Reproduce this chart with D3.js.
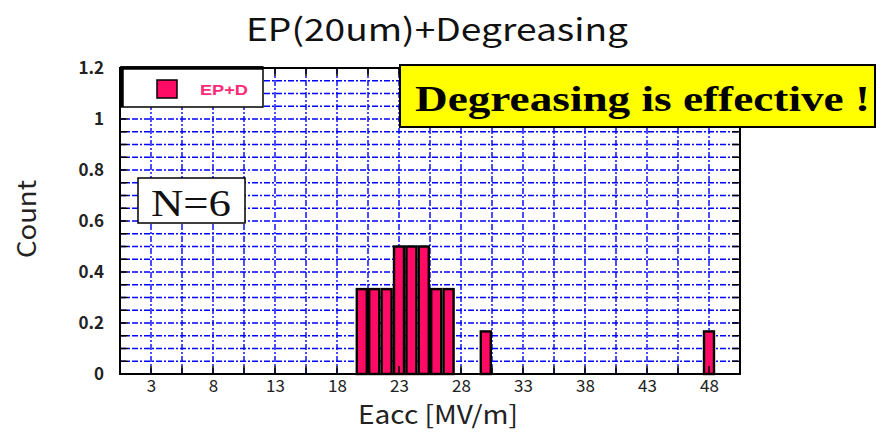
<!DOCTYPE html>
<html>
<head>
<meta charset="utf-8">
<script src="https://cdn.jsdelivr.net/npm/d3@7"></script>
<style>
  html, body { margin: 0; padding: 0; background: #fff; }
  svg { display: block; }
</style>
</head>
<body>
<svg id="chart" width="877" height="432"></svg>
<script>
// Histogram of accelerating gradient (1 MV/m bins)
const binCenters = [20, 21, 22, 23, 24, 25, 26, 27, 30, 48];
const binCounts  = [0.333, 0.333, 0.333, 0.5, 0.5, 0.5, 0.333, 0.333, 0.167, 0.167];
const xTickLabels = [3, 8, 13, 18, 23, 28, 33, 38, 43, 48];
const yTickLabels = [0, 0.2, 0.4, 0.6, 0.8, 1, 1.2];
const binWidth = 1;

const svg = d3.select("#chart");
const x = d3.scaleLinear().domain([0.5, 50.5]).range([120, 740]);
const y = d3.scaleLinear().domain([0, 1.2]).range([374, 68]);

const font = "'Noto Sans CJK JP', 'Noto Sans', sans-serif";
const serif = "'Liberation Serif', 'Times New Roman', serif";
const gridDash = "6,2,2,2";

// minor steps: every 2.5 on x, every 0.05 on y
const xSteps = d3.range(3, 48.01, 2.5);
const ySteps = d3.range(1, 24).map(i => i * 0.05);

// grid
const grid = svg.append("g");
grid.selectAll("line.h").data(ySteps).join("line")
  .attr("x1", x(0.5)).attr("x2", x(50.5))
  .attr("y1", d => y(d)).attr("y2", d => y(d))
  .attr("stroke", "#0000ff").attr("stroke-width", 1.4)
  .attr("stroke-dasharray", gridDash);
grid.selectAll("line.v").data(xSteps).join("line")
  .attr("x1", d => x(d)).attr("x2", d => x(d))
  .attr("y1", y(1.2)).attr("y2", y(0))
  .attr("stroke", "#0000ff").attr("stroke-width", 1.4)
  .attr("stroke-dasharray", gridDash);

// bars
svg.append("g").selectAll("rect").data(binCenters).join("rect")
  .attr("x", (d) => x(d - binWidth / 2) + 1.2)
  .attr("width", (d) => x(d + binWidth / 2) - x(d - binWidth / 2) - 2.4)
  .attr("y", (d, i) => y(binCounts[i]))
  .attr("height", (d, i) => y(0) - y(binCounts[i]))
  .attr("fill", "#ff0a64")
  .attr("stroke", "#000").attr("stroke-width", 2.4);

// frame ticks (inward)
const tickLen = 8;
const ticks = svg.append("g").attr("stroke", "#000").attr("stroke-width", 1.5);
ticks.selectAll("line.b").data(xSteps).join("line")
  .attr("x1", d => x(d)).attr("x2", d => x(d))
  .attr("y1", y(0)).attr("y2", y(0) - tickLen);
ticks.selectAll("line.t").data(xSteps).join("line")
  .attr("x1", d => x(d)).attr("x2", d => x(d))
  .attr("y1", y(1.2)).attr("y2", y(1.2) + tickLen);
ticks.selectAll("line.l").data(ySteps).join("line")
  .attr("x1", x(0.5)).attr("x2", x(0.5) + tickLen)
  .attr("y1", d => y(d)).attr("y2", d => y(d));
ticks.selectAll("line.r").data(ySteps).join("line")
  .attr("x1", x(50.5)).attr("x2", x(50.5) - tickLen)
  .attr("y1", d => y(d)).attr("y2", d => y(d));

// plot frame
svg.append("rect")
  .attr("x", x(0.5)).attr("y", y(1.2))
  .attr("width", x(50.5) - x(0.5)).attr("height", y(0) - y(1.2))
  .attr("fill", "none").attr("stroke", "#000").attr("stroke-width", 2);

// tick labels via d3 axes (lines hidden, text kept)
const xAxis = svg.append("g").attr("transform", `translate(0,${y(0)})`)
  .call(d3.axisBottom(x).tickValues(xTickLabels).tickSize(0).tickPadding(6).tickFormat(d3.format("d")));
xAxis.select(".domain").remove();
xAxis.selectAll("text").attr("font-family", font).attr("font-size", 17).attr("fill", "#222");

const yAxis = svg.append("g").attr("transform", `translate(${x(0.5)},0)`)
  .call(d3.axisLeft(y).tickValues(yTickLabels).tickSize(0).tickPadding(16).tickFormat(d => String(d)));
yAxis.select(".domain").remove();
yAxis.selectAll("text").attr("font-family", font).attr("font-size", 17)
  .attr("font-weight", "bold").attr("fill", "#222");

// titles
svg.append("text").attr("x", 437).attr("y", 41).attr("text-anchor", "middle")
  .attr("font-family", font).attr("font-size", 31).attr("fill", "#111")
  .attr("textLength", 382).attr("lengthAdjust", "spacingAndGlyphs")
  .text("EP(20um)+Degreasing");
svg.append("text").attr("x", 438).attr("y", 424).attr("text-anchor", "middle")
  .attr("font-family", font).attr("font-size", 25).attr("fill", "#222")
  .attr("textLength", 160).attr("lengthAdjust", "spacingAndGlyphs")
  .text("Eacc [MV/m]");
svg.append("text").attr("transform", "translate(36,219) rotate(-90)")
  .attr("text-anchor", "middle")
  .attr("font-family", font).attr("font-size", 25).attr("fill", "#222")
  .attr("textLength", 78).attr("lengthAdjust", "spacingAndGlyphs")
  .text("Count");

// legend
const lg = svg.append("g");
lg.append("rect").attr("x", 121).attr("y", 67).attr("width", 142).attr("height", 40)
  .attr("fill", "#fff").attr("stroke", "#000").attr("stroke-width", 1.5);
lg.append("path").attr("d", "M122,107 V68 H263")
  .attr("fill", "none").attr("stroke", "#000").attr("stroke-width", 3.5);
lg.append("rect").attr("x", 157).attr("y", 80).attr("width", 20).attr("height", 18)
  .attr("fill", "#ff0a64").attr("stroke", "#000").attr("stroke-width", 1.5);
lg.append("text").attr("x", 224).attr("y", 95).attr("text-anchor", "middle")
  .attr("font-family", "'Liberation Sans', Arial, sans-serif").attr("font-size", 14)
  .attr("font-weight", "bold").attr("fill", "#ff2a78")
  .attr("textLength", 48).attr("lengthAdjust", "spacingAndGlyphs").text("EP+D");

// N annotation
svg.append("rect").attr("x", 138).attr("y", 178).attr("width", 107).attr("height", 45)
  .attr("fill", "#fff").attr("stroke", "#000").attr("stroke-width", 1.5);
svg.append("text").attr("x", 191).attr("y", 216).attr("text-anchor", "middle")
  .attr("font-family", serif).attr("font-size", 38).attr("fill", "#111")
  .attr("textLength", 80).attr("lengthAdjust", "spacingAndGlyphs").text("N=6");

// callout
svg.append("rect").attr("x", 400).attr("y", 65).attr("width", 475).attr("height", 62)
  .attr("fill", "#ffff00").attr("stroke", "#000").attr("stroke-width", 2);
svg.append("text").attr("x", 415).attr("y", 111)
  .attr("font-family", serif).attr("font-size", 36)
  .attr("font-weight", "bold").attr("fill", "#000")
  .attr("textLength", 455).attr("lengthAdjust", "spacingAndGlyphs")
  .text("Degreasing is effective !");
</script>
</body>
</html>
